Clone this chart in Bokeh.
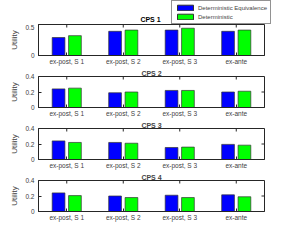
from bokeh.plotting import figure
from bokeh.layouts import column
from bokeh.models import (ColumnDataSource, FactorRange, Range1d, FixedTicker,
                          PrintfTickFormatter, Legend, LegendItem, Label)
from bokeh.transform import dodge
from bokeh.embed import file_html
from bokeh.resources import INLINE

categories = ["ex-post, S 1", "ex-post, S 2", "ex-post, S 3", "ex-ante"]
titles = ["CPS 1", "CPS 2", "CPS 3", "CPS 4"]
series_names = ["Deterministic Equivalence", "Deterministic"]
series_colors = ["#0000FF", "#00FF00"]
det_equiv_cps1 = [0.29, 0.39, 0.41, 0.39]
det_cps1 = [0.32, 0.41, 0.44, 0.41]
det_equiv_cps2 = [0.24, 0.19, 0.22, 0.20]
det_cps2 = [0.25, 0.20, 0.22, 0.21]
det_equiv_cps3 = [0.24, 0.22, 0.155, 0.195]
det_cps3 = [0.22, 0.21, 0.16, 0.185]
det_equiv_cps4 = [0.24, 0.20, 0.21, 0.215]
det_cps4 = [0.205, 0.18, 0.18, 0.19]
y_max = [0.5, 0.4, 0.4, 0.4]
y_ticks = [[0, 0.5], [0, 0.2, 0.4], [0, 0.2, 0.4], [0, 0.2, 0.4]]

panels = [(det_equiv_cps1, det_cps1), (det_equiv_cps2, det_cps2),
          (det_equiv_cps3, det_cps3), (det_equiv_cps4, det_cps4)]

FONT = "Liberation Sans"
AX = "#262626"
LBL = "#404040"
EDGE = "#333333"
FRAME_H = 31
TICK_PX = 3

# header strip: legend + first panel title
hdr = figure(width=291, height=24, x_range=FactorRange(*categories, range_padding=0),
             y_range=Range1d(0, 1), x_axis_type=None, y_axis_type=None,
             output_backend="svg", toolbar_location=None,
             min_border_left=38, min_border_right=0, min_border_top=0, min_border_bottom=0)
hdr.outline_line_color = None
hdr.xgrid.grid_line_color = None
hdr.ygrid.grid_line_color = None
src1 = ColumnDataSource(dict(cat=categories, de=det_equiv_cps1, d=det_cps1))
h1 = hdr.vbar(x="cat", top="de", width=0.2, source=src1, fill_color=series_colors[0],
              line_color=EDGE, visible=False)
h2 = hdr.vbar(x="cat", top="d", width=0.2, source=src1, fill_color=series_colors[1],
              line_color=EDGE, visible=False)
leg = Legend(items=[LegendItem(label=series_names[0], renderers=[h1]),
                    LegendItem(label=series_names[1], renderers=[h2])],
             location=(133, 0))
leg.label_text_font = FONT
leg.label_text_font_size = "6px"
leg.label_height = 7
leg.glyph_height = 7
leg.glyph_width = 20
leg.label_standoff = 3
leg.spacing = 2
leg.padding = 3
leg.margin = 0
leg.border_line_color = AX
leg.border_line_width = 1
leg.background_fill_color = "white"
leg.background_fill_alpha = 1
hdr.add_layout(leg)
hdr.add_layout(Label(x=112, y=5, x_units="screen", y_units="screen", text=titles[0],
                     text_font=FONT, text_font_size="7px", text_font_style="bold",
                     text_align="center", text_baseline="middle", text_color="black"))

figs = [hdr]
for i, (de, d) in enumerate(panels):
    p = figure(frame_width=226, frame_height=FRAME_H,
               x_range=FactorRange(*categories, range_padding=0),
               y_range=Range1d(0, y_max[i]), output_backend="svg", toolbar_location=None,
               min_border_left=38, min_border_right=19, min_border_top=0, min_border_bottom=0)
    src = ColumnDataSource(dict(cat=categories, de=de, d=d))
    p.vbar(x=dodge("cat", -0.145, range=p.x_range), top="de", width=0.225, source=src,
           fill_color=series_colors[0], line_color=EDGE, line_width=0.7)
    p.vbar(x=dodge("cat", 0.145, range=p.x_range), top="d", width=0.225, source=src,
           fill_color=series_colors[1], line_color=EDGE, line_width=0.7)
    # MATLAB-style box ticks on the top and right edges (inward)
    ym = y_max[i]
    tsrc = ColumnDataSource(dict(cat=categories, y0=[ym] * len(categories),
                                 y1=[ym * (1 - TICK_PX / FRAME_H)] * len(categories)))
    p.segment(x0="cat", y0="y0", x1="cat", y1="y1", source=tsrc, line_color=AX, line_width=1)
    rsrc = ColumnDataSource(dict(cat=[categories[-1]] * len(y_ticks[i]), y=y_ticks[i]))
    p.segment(x0=dodge("cat", 0.5, range=p.x_range), y0="y",
              x1=dodge("cat", 0.5 - TICK_PX / 56.5, range=p.x_range), y1="y",
              source=rsrc, line_color=AX, line_width=1)

    p.title.text = titles[i] if i > 0 else ""
    p.title.text_font = FONT
    p.title.text_font_size = "7px"
    p.title.text_font_style = "bold"
    p.title.align = "center"
    p.title.standoff = 0
    p.title.offset = 0
    p.xgrid.grid_line_color = None
    p.ygrid.grid_line_color = None
    p.outline_line_color = AX
    p.outline_line_width = 1
    p.background_fill_color = "white"
    p.border_fill_color = "white"

    xa = p.xaxis[0]
    xa.major_label_text_font = FONT
    xa.major_label_text_font_size = "6.5px"
    xa.major_label_text_color = LBL
    xa.major_label_standoff = 2
    xa.major_tick_in = 3
    xa.major_tick_out = 0
    xa.major_tick_line_color = AX
    xa.axis_line_color = AX

    ya = p.yaxis[0]
    ya.ticker = FixedTicker(ticks=y_ticks[i])
    ya.formatter = PrintfTickFormatter(format="%g")
    ya.major_label_text_font = FONT
    ya.major_label_text_font_size = "6.5px"
    ya.major_label_text_color = LBL
    ya.major_label_standoff = 4
    ya.major_tick_in = 3
    ya.major_tick_out = 0
    ya.minor_tick_line_color = None
    ya.major_tick_line_color = AX
    ya.axis_line_color = AX
    ya.axis_label = "Utility"
    ya.axis_label_text_font = FONT
    ya.axis_label_text_font_size = "8px"
    ya.axis_label_text_font_style = "normal"
    ya.axis_label_text_color = LBL
    ya.axis_label_standoff = 3
    figs.append(p)

layout = column(*figs, spacing=0)
open("out.html", "w").write(file_html(layout, INLINE))
